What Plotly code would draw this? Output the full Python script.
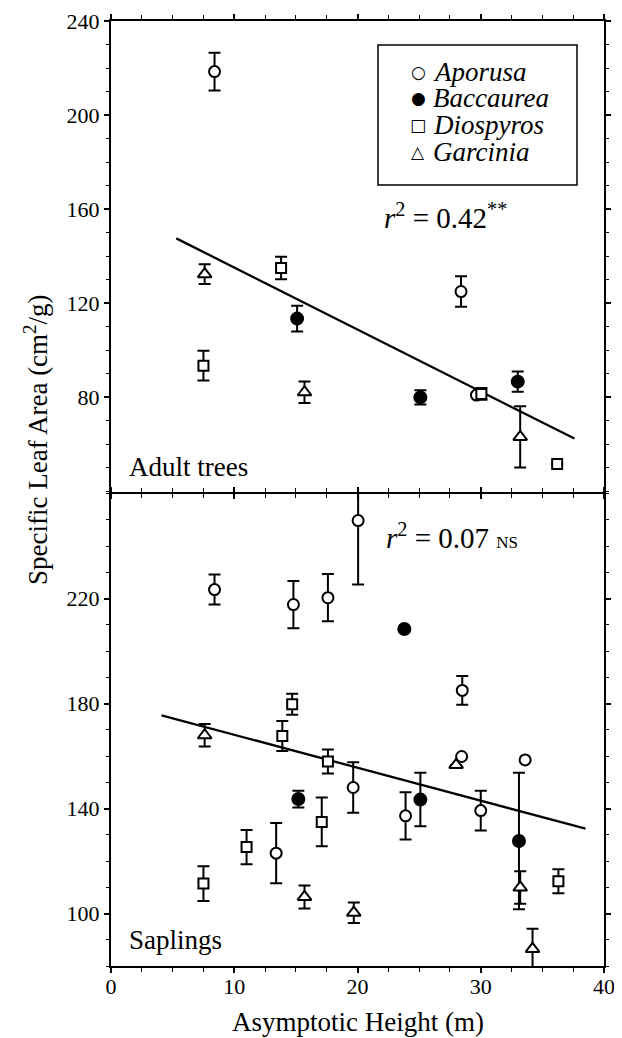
import plotly.graph_objects as go

# ---------------- data ----------------
species = ["Aporusa", "Baccaurea", "Diospyros", "Garcinia"]

# Adult trees (top panel)
adult_x = {
    "Aporusa":   [8.4, 28.4, 29.65],
    "Baccaurea": [15.1, 25.1, 33.0],
    "Diospyros": [7.5, 13.8, 30.05, 36.2],
    "Garcinia":  [7.6, 15.7, 33.2],
}
adult_y = {
    "Aporusa":   [218.5, 125.0, 81.0],
    "Baccaurea": [113.5, 80.0, 86.7],
    "Diospyros": [93.5, 135.0, 81.5, 51.7],
    "Garcinia":  [132.4, 82.2, 63.2],
}
adult_err = {
    "Aporusa":   [8.0, 6.5, 0.0],
    "Baccaurea": [5.5, 3.0, 4.3],
    "Diospyros": [6.3, 4.8, 2.5, 0.0],
    "Garcinia":  [4.2, 4.6, 13.0],
}

# Saplings (bottom panel)
sap_x = {
    "Aporusa":   [8.4, 14.8, 17.6, 20.05, 13.4, 19.65, 23.9, 28.5, 28.45, 30.0, 33.6],
    "Baccaurea": [15.2, 23.8, 25.1, 33.1],
    "Diospyros": [7.5, 11.0, 13.9, 14.7, 17.1, 17.6, 36.3],
    "Garcinia":  [7.6, 15.7, 19.7, 28.0, 33.2, 34.2],
}
sap_y = {
    "Aporusa":   [223.4, 217.7, 220.3, 249.7, 123.0, 148.0, 137.2, 185.0, 159.8, 139.2, 158.5],
    "Baccaurea": [143.6, 208.4, 143.4, 127.6],
    "Diospyros": [111.4, 125.3, 167.6, 179.7, 134.9, 157.9, 112.3],
    "Garcinia":  [167.9, 106.3, 100.3, 156.6, 109.9, 86.5],
}
sap_err = {
    "Aporusa":   [5.7, 9.0, 9.0, 24.4, 11.5, 9.6, 9.0, 5.5, 0.0, 7.6, 0.0],
    "Baccaurea": [3.2, 0.0, 10.2, 26.0],
    "Diospyros": [6.6, 6.5, 5.7, 4.0, 9.3, 4.6, 4.6],
    "Garcinia":  [4.3, 4.4, 3.9, 0.0, 6.2, 7.7],
}

# regression lines (end points)
adult_fit_x = [5.3, 37.6]
adult_fit_y = [147.6, 62.5]
sap_fit_x = [4.1, 38.5]
sap_fit_y = [175.5, 132.3]

x_ticks = [0, 10, 20, 30, 40]
adult_yticks = [80, 120, 160, 200, 240]
sap_yticks = [100, 140, 180, 220]

legend_glyphs = ["\u25CB", "\u25CF", "\u25A1", "\u25B3"]

# ---------------- styling ----------------
FONT = "Liberation Serif"
style = {
    "Aporusa":   dict(symbol="circle", size=11, color="white"),
    "Baccaurea": dict(symbol="circle", size=12, color="black"),
    "Diospyros": dict(symbol="square", size=10, color="white"),
    "Garcinia":  dict(symbol="triangle-up", size=12, color="white"),
}

fig = go.Figure()

def add_panel(xs, ys, errs, xa, ya):
    for sp in species:
        st = style[sp]
        fig.add_trace(go.Scatter(
            x=xs[sp], y=ys[sp], mode="markers", name=sp,
            legendgroup=sp, showlegend=False,
            xaxis=xa, yaxis=ya,
            marker=dict(symbol=st["symbol"], size=st["size"], color=st["color"],
                        line=dict(color="black", width=2)),
            error_y=dict(type="data", array=errs[sp], visible=True,
                         color="black", thickness=2, width=6),
        ))

fig.add_trace(go.Scatter(x=adult_fit_x, y=adult_fit_y, mode="lines",
                         line=dict(color="black", width=2.3), showlegend=False,
                         xaxis="x2", yaxis="y2", hoverinfo="skip"))
fig.add_trace(go.Scatter(x=sap_fit_x, y=sap_fit_y, mode="lines",
                         line=dict(color="black", width=2.3), showlegend=False,
                         xaxis="x", yaxis="y", hoverinfo="skip"))

add_panel(adult_x, adult_y, adult_err, "x2", "y2")
add_panel(sap_x, sap_y, sap_err, "x", "y")

axis_common = dict(showline=True, linecolor="black", linewidth=2, mirror="ticks",
                   ticks="outside", ticklen=5, tickwidth=1.5, tickcolor="black",
                   showgrid=False, zeroline=False, automargin=False,
                   tickfont=dict(family=FONT, size=22, color="black"))

fig.update_layout(
    width=614, height=1030, autosize=False,
    margin=dict(l=103, r=18, t=13, b=72),
    paper_bgcolor="white", plot_bgcolor="white",
    font=dict(family=FONT, color="black"),
    xaxis=dict(**axis_common, anchor="y", range=[0, 40], tickmode="array", tickvals=x_ticks,
               ticklabelstandoff=-5,
               minor=dict(tickmode="linear", tick0=0, dtick=2.5, ticks="outside",
                          ticklen=4, tickcolor="black", tickwidth=1.2)),
    xaxis2=dict(**axis_common, anchor="y2", matches="x", range=[0, 40], tickmode="array",
                tickvals=x_ticks, showticklabels=False,
                minor=dict(tickmode="linear", tick0=0, dtick=2.5, ticks="outside",
                           ticklen=4, tickcolor="black", tickwidth=1.2)),
    yaxis=dict(**axis_common, domain=[0, 0.5], range=[80, 260], tickmode="array",
               tickvals=sap_yticks,
               minor=dict(tickmode="linear", tick0=80, dtick=10, ticks="outside",
                          ticklen=3, tickcolor="black", tickwidth=1.2)),
    yaxis2=dict(**axis_common, domain=[0.5021, 1], range=[40, 240], tickmode="array",
                tickvals=adult_yticks,
                minor=dict(tickmode="linear", tick0=40, dtick=10, ticks="outside",
                           ticklen=3, tickcolor="black", tickwidth=1.2)),
    showlegend=False,
)

def px_x(px):
    return (px - 111) / 493.0

def px_y(py):
    return (966 - py) / 945.0

# legend box (frame + entries)
fig.add_shape(type="rect", xref="paper", yref="paper",
              x0=px_x(378), x1=px_x(577), y0=px_y(185), y1=px_y(45),
              line=dict(color="black", width=1.5), fillcolor="white", layer="above")
legend_rows = [72, 98, 125, 152]
for sp, glyph, ry in zip(species, legend_glyphs, legend_rows):
    fig.add_annotation(text=glyph, xref="paper", yref="paper", x=px_x(418), y=px_y(ry),
                       xanchor="center", yanchor="middle", showarrow=False,
                       font=dict(family="DejaVu Sans", size=17, color="black"))
    fig.add_annotation(text="<i>" + sp + "</i>", xref="paper", yref="paper",
                       x=px_x(431), y=px_y(ry), xanchor="left", yanchor="middle",
                       showarrow=False, font=dict(family=FONT, size=27, color="black"))

ann_font = dict(family=FONT, size=27, color="black")
fig.add_annotation(text="Adult trees", xref="paper", yref="paper", x=px_x(127), y=px_y(467),
                   xanchor="left", yanchor="middle", showarrow=False, font=ann_font)
fig.add_annotation(text="Saplings", xref="paper", yref="paper", x=px_x(127), y=px_y(940),
                   xanchor="left", yanchor="middle", showarrow=False, font=ann_font)
fig.add_annotation(text="<i>r</i><sup>2</sup> = 0.42<sup>**</sup>", xref="paper", yref="paper",
                   x=px_x(382), y=px_y(216), xanchor="left", yanchor="middle", showarrow=False,
                   font=dict(family=FONT, size=29, color="black"))
fig.add_annotation(text="<i>r</i><sup>2</sup> = 0.07 <span style='font-size:17px'>NS</span>",
                   xref="paper", yref="paper", x=px_x(384), y=px_y(536), xanchor="left",
                   yanchor="middle", showarrow=False,
                   font=dict(family=FONT, size=29, color="black"))
fig.add_annotation(text="Specific Leaf Area (cm<sup>2</sup>/g)", xref="paper", yref="paper",
                   x=px_x(36), y=px_y(440), xanchor="center", yanchor="middle", textangle=-90,
                   showarrow=False, font=dict(family=FONT, size=27, color="black"))
fig.add_annotation(text="Asymptotic Height (m)", xref="paper", yref="paper",
                   x=px_x(358), y=px_y(1022), xanchor="center", yanchor="middle",
                   showarrow=False, font=ann_font)

fig.write_html("out.html")
